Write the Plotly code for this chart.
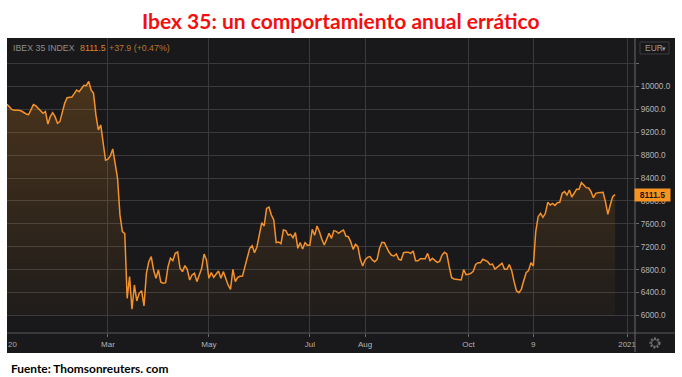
import plotly.graph_objects as go

values = [
 9689,9642,9600,9584,9590,9584,9572,9543,9520,9508,9590,9683,9660,9619,9578,9532,9561,9345,9473,9543,
 9473,9357,9386,9549,9706,9805,9811,9817,9875,9939,9910,9968,10021,10015,10090,9939,9881,9503,9241,9328,
 9008,8711,8729,8787,8909,8659,8397,7757,7466,7431,6300,6679,6108,6533,6254,6388,6434,6166,6737,6940,
 7028,6795,6650,6795,6580,6562,6574,6853,6999,6958,7086,7109,6824,6766,6871,6807,6620,6708,6737,6591,
 6708,6824,7074,6970,6650,6748,6667,6719,6777,6650,6766,6650,6533,6457,6807,6591,6667,6684,6690,6853,
 7028,7173,7220,7097,7202,7406,7621,7563,7871,7895,7755,7668,7272,7284,7255,7493,7482,7406,7418,7359,
 7447,7173,7272,7161,7272,7225,7225,7505,7400,7563,7464,7330,7231,7330,7435,7348,7482,7470,7435,7470,
 7493,7388,7377,7290,7156,7243,7202,6981,6865,6969,7016,7028,6970,6940,6981,7173,7278,7272,7190,7103,
 7051,7039,7074,6981,6969,7097,7103,7103,7085,7126,6957,6957,6992,6987,6992,7085,6957,6998,6969,6928,
 6946,7056,7103,7074,6853,6661,6637,6632,6626,6620,6800,6713,6719,6737,6771,6893,6923,6923,6981,6957,
 6940,6888,6899,6812,6841,6870,6911,6806,6806,6888,6783,6591,6428,6399,6457,6608,6748,6783,6923,6865,
 7465,7726,7785,7715,7785,7977,7930,7959,7924,7971,7977,8134,8163,8105,8192,8070,8134,8204,8204,8320,
 8279,8233,8227,8163,8058,8134,8146,8146,8151,7988,7767,7930,8076,8111.5,
]
sessions = list(range(len(values)))
floor_value = 6000
floor = [floor_value] * len(values)

x_tick_sessions = [42, 84, 126, 149, 192, 219, 258]
x_tick_labels = ["Mar", "May", "Jul", "Aug", "Oct", "9", "2021"]
y_ticks = [6000, 6400, 6800, 7200, 7600, 8000, 8400, 8800, 9200, 9600, 10000, 10400]
y_labels = ["6000.0", "6400.0", "6800.0", "7200.0", "7600.0", "8000.0", "8400.0",
            "8800.0", "9200.0", "9600.0", "10000.0", ""]

W, H = 682, 377
L, R, T, B = 7, 635, 38, 333
def px(x): return (x - L) / (R - L)
def py(y): return (B - y) / (B - T)

PANEL = "#19191b"
GRID = "#3a3a3c"
LINE = "#f5912a"
TEXT = "#b4b4b4"
FONT = "Liberation Sans"

fig = go.Figure()
fig.add_trace(go.Scatter(x=sessions, y=floor, mode="lines", line=dict(width=0),
                         hoverinfo="skip", showlegend=False))
fig.add_trace(go.Scatter(
    x=sessions, y=values, mode="lines", line=dict(color=LINE, width=1.5),
    fill="tonexty", showlegend=False,
    fillgradient=dict(type="vertical", start=6000, stop=10100,
                      colorscale=[[0, "rgba(247,147,30,0.03)"], [1, "rgba(247,147,30,0.22)"]]),
))

def note(x, y, text, color, size, anchor="left", weight=None, family=FONT, **kw):
    fig.add_annotation(xref="paper", yref="paper", x=px(x), y=py(y), text=text, showarrow=False,
                       xanchor=anchor, yanchor="middle",
                       font=dict(color=color, size=size, family=family, weight=weight),
                       borderpad=0, **kw)

note(340, 20, "Ibex 35: un comportamiento anual errático", "#f40f0f", 21, "center", 700, "Lato")
note(10, 368, "Fuente: Thomsonreuters. com", "#000000", 11.9, "left", 700, "Lato")
note(12, 48, "IBEX 35 INDEX", "#8c8c8c", 8.8)
note(79, 48, "8111.5", "#d9842a", 8.8)
note(108, 48, "+37.9 (+0.47%)", "#b8752c", 8.8)
note(7, 344, "20", "#a8a8a8", 8)
note(644, 48, "EUR", "#9a9a9a", 8.5)
note(661, 48, "▾", "#9a9a9a", 7)
fig.add_annotation(xref="paper", yref="y", x=px(652.5), y=8111.5, text="<b>8111.5</b>", showarrow=False,
                   xanchor="center", yanchor="middle", font=dict(color="#1a1a1a", size=8.5, family=FONT),
                   bgcolor="#f7931e", width=35, height=12, borderpad=0)

def ring(cx, cy, r, **line):
    return dict(type="circle", xref="paper", yref="paper", x0=px(cx - r), x1=px(cx + r),
                y0=py(cy + r), y1=py(cy - r), line=line, fillcolor="rgba(0,0,0,0)")

fig.update_layout(
    width=W, height=H, autosize=False,
    margin=dict(l=L, r=W - R, t=T, b=H - B, pad=0),
    paper_bgcolor="white", plot_bgcolor="rgba(0,0,0,0)",
    showlegend=False, hovermode=False,
    shapes=[
        dict(type="rect", xref="paper", yref="paper", x0=0, x1=px(675), y0=py(353), y1=1,
             fillcolor=PANEL, line_width=0, layer="below"),
        dict(type="line", xref="paper", yref="paper", x0=0, x1=px(675), y0=0, y1=0,
             line=dict(color="#5a5a5c", width=1)),
        dict(type="line", xref="paper", yref="paper", x0=1, x1=1, y0=py(352), y1=1,
             line=dict(color="#6a6a6c", width=1)),
        dict(type="rect", xref="paper", yref="paper", x0=px(640), x1=px(669), y0=py(54), y1=py(42),
             line=dict(color="#3c3c40", width=1), fillcolor="rgba(0,0,0,0)"),
        ring(655, 343, 3.5, color="#777779", width=1),
        ring(655, 343, 4.8, color="#777779", width=1.4, dash="2px 1.5px"),
    ],
    xaxis=dict(range=[0, 261.3], tickmode="array", tickvals=x_tick_sessions, ticktext=x_tick_labels,
               automargin=False,
               showgrid=True, gridcolor=GRID, gridwidth=1, zeroline=False, showline=False,
               ticks="outside", ticklen=3, tickcolor="#6a6a6c",
               tickfont=dict(color=TEXT, size=8, family=FONT), tickangle=0),
    yaxis=dict(range=[5694, 10847], side="right", tickmode="array", tickvals=y_ticks, ticktext=y_labels,
               automargin=False,
               showgrid=True, gridcolor=GRID, gridwidth=1, zeroline=False, showline=False,
               ticks="outside", ticklen=3, tickcolor="#6a6a6c",
               tickfont=dict(color=TEXT, size=8.2, family=FONT)),
)
fig.write_html("out.html", config=dict(displayModeBar=False),
               post_script="document.body.style.margin='0';document.documentElement.style.overflow='hidden';")
